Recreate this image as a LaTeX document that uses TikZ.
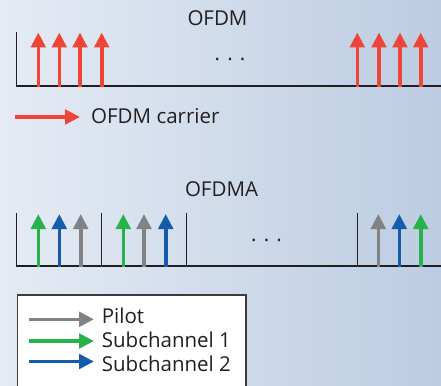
\documentclass[tikz,border=0pt]{standalone}
\usepackage{fontspec}
\setmainfont{Open Sans}
\usetikzlibrary{arrows.meta}
\definecolor{bgL}{RGB}{229,235,244}
\definecolor{bgR}{RGB}{188,204,226}
\definecolor{cred}{RGB}{239,68,56}
\definecolor{cgreen}{RGB}{40,178,76}
\definecolor{cblue}{RGB}{22,92,172}
\definecolor{cgray}{RGB}{130,130,132}
\definecolor{ink}{RGB}{35,31,32}
\definecolor{boxline}{RGB}{60,60,62}
\tikzset{
  carrier/.style={line width=3.6pt, -{Triangle[length=15pt,width=14.5pt]}},
  axisline/.style={draw=ink, line width=1.2pt},
  lbl/.style={font=\fontsize{20.5}{24}\selectfont, text=ink, inner sep=0pt},
}
\begin{document}
\begin{tikzpicture}[x=1pt,y=-1pt]
\useasboundingbox (0,0) rectangle (441,385);
\clip (0,0) rectangle (441,385);
\shade[left color=bgL, right color=bgR] (0,0) rectangle (441,385);

% ---------- OFDM ----------
\node[lbl, anchor=base] (ofdm) at (217.5,26) {OFDM};
\coordinate (a1top) at (16.3,32);
\coordinate (a1org) at (16.3,86);
\coordinate (a1end) at (441,86);
\draw[axisline] (a1top) -- (a1org) -- (a1end);
\foreach \x [count=\i] in {38.3,59.3,80,101.7,357.3,379,400,420.7}{
  \coordinate (rb\i) at (\x,87);
  \coordinate (rt\i) at (\x,32.5);
  \draw[carrier, cred] (rb\i) -- (rt\i);
}
\node[lbl, anchor=base] (dots1) at (230,60.5) {. . .};

% legend OFDM carrier
\coordinate (lr1) at (15,117);
\coordinate (lr2) at (80,117);
\draw[carrier, cred] (lr1) -- (lr2);
\node[lbl, anchor=base west] (ofdmcar) at (91,124) {OFDM carrier};

% ---------- OFDMA ----------
\node[lbl, anchor=base] (ofdma) at (221.5,196) {OFDMA};
\coordinate (a2org) at (16.3,266);
\coordinate (a2end) at (441,266);
\draw[axisline] (a2org) -- (a2end);
\foreach \x [count=\i] in {16.3,101.7,186.7,357.3}{
  \coordinate (dt\i) at (\x,212.7);
  \coordinate (db\i) at (\x,266);
  \draw[axisline] (dt\i) -- (db\i);
}
\foreach \x/\c [count=\i] in {38.3/cgreen,59.3/cblue,80.7/cgray,123.3/cgreen,144/cgray,165.7/cblue,378.3/cgray,399.3/cblue,420.7/cgreen}{
  \coordinate (sb\i) at (\x,267);
  \coordinate (st\i) at (\x,214);
  \draw[carrier, \c] (sb\i) -- (st\i);
}
\node[lbl, anchor=base] (dots2) at (266.5,241.5) {. . .};

% ---------- Legend box ----------
\coordinate (bx1) at (17.7,295);
\coordinate (bx2) at (246,395);
\draw[fill=white, draw=boxline, line width=1.4pt] (bx1) rectangle (bx2);
\coordinate (lp1) at (29,319.3);  \coordinate (lp2) at (94,319.3);
\coordinate (lg1) at (29,341);    \coordinate (lg2) at (94,341);
\coordinate (lb1) at (29,361.5);  \coordinate (lb2) at (94,361.5);
\draw[carrier, cgray]  (lp1) -- (lp2);
\draw[carrier, cgreen] (lg1) -- (lg2);
\draw[carrier, cblue]  (lb1) -- (lb2);
\node[lbl, anchor=base west] (pilot) at (101.7,323) {Pilot};
\node[lbl, anchor=base west] (sub1) at (101.7,347) {Subchannel 1};
\node[lbl, anchor=base west] (sub2) at (101.7,371) {Subchannel 2};
\end{tikzpicture}
\end{document}
